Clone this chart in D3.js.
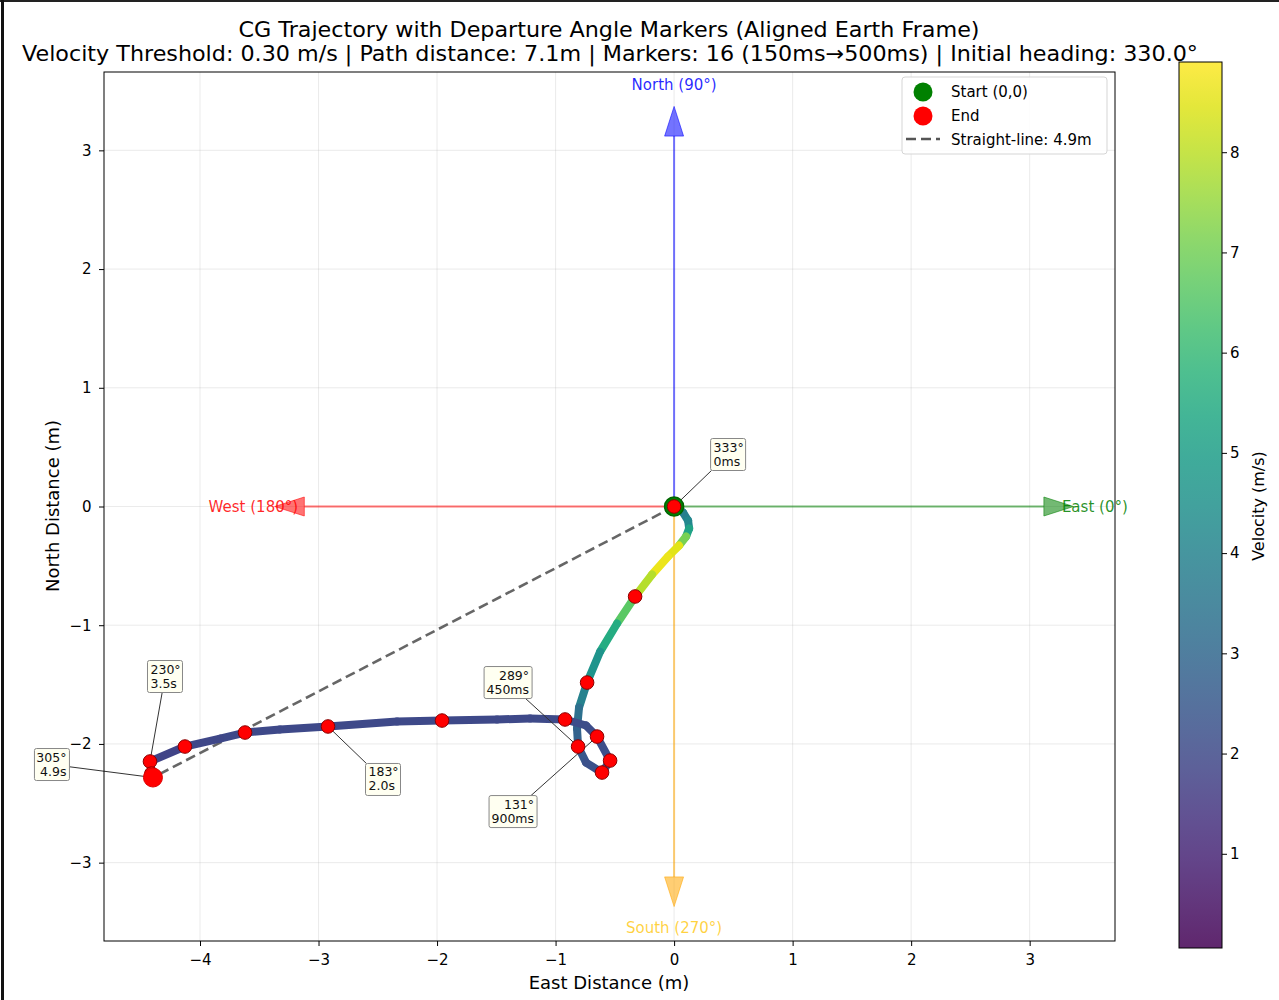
<!DOCTYPE html>
<html>
<head>
<meta charset="utf-8">
<script src="https://cdn.jsdelivr.net/npm/d3@7"></script>
<style>
  body { margin: 0; background: #fff; }
  svg text { font-family: "DejaVu Sans", sans-serif; }
</style>
</head>
<body>
<script>
// trajectory samples (east m, north m) and velocity (m/s)
var pathEast  = [0, 0.076, 0.118, 0.127, 0.101, 0.042, -0.051, -0.186, -0.329, -0.481, -0.624, -0.734, -0.802, -0.819, -0.810, -0.743, -0.608, -0.540, -0.650, -0.743, -0.920, -1.215, -1.494, -1.958, -2.338, -2.920, -3.325, -3.620, -3.831, -4.127, -4.422, -4.397];
var pathNorth = [0, -0.051, -0.118, -0.185, -0.253, -0.329, -0.421, -0.573, -0.758, -0.986, -1.222, -1.483, -1.693, -1.870, -2.022, -2.157, -2.241, -2.140, -1.938, -1.845, -1.794, -1.786, -1.794, -1.803, -1.811, -1.853, -1.879, -1.904, -1.955, -2.022, -2.148, -2.283];
var pathVel   = [3.6, 3.7, 4.0, 4.4, 6.0, 8.2, 8.8, 8.5, 7.3, 6.0, 5.0, 4.3, 3.6, 3.0, 2.6, 2.3, 2.2, 2.2, 2.1, 2.1, 2.1, 2.0, 2.0, 2.0, 2.0, 2.0, 2.0, 2.0, 2.0, 1.9, 1.8, 1.6];

// departure angle markers
var markEast  = [0, -0.329, -0.734, -0.810, -0.608, -0.540, -0.650, -0.920, -1.958, -2.920, -3.620, -4.127, -4.422, -4.410, -4.400, -4.397];
var markNorth = [0, -0.758, -1.483, -2.022, -2.241, -2.140, -1.938, -1.794, -1.803, -1.853, -1.904, -2.022, -2.148, -2.250, -2.270, -2.283];

// annotated markers
var noteIndex = [0, 3, 6, 9, 12, 15];
var noteAngle = ["333°", "289°", "131°", "183°", "230°", "305°"];
var noteTime  = ["0ms", "450ms", "900ms", "2.0s", "3.5s", "4.9s"];
var noteAlign = ["start", "end", "end", "start", "start", "end"];
var noteShift = [[54, -52], [-70, -64], [-84, 75], [55, 53], [15, -85], [-101, -13]];

var xTicks = [-4, -3, -2, -1, 0, 1, 2, 3];
var yTicks = [-3, -2, -1, 0, 1, 2, 3];
var cTicks = [1, 2, 3, 4, 5, 6, 7, 8];

var W = 1279, H = 1000;
var svg = d3.select("body").append("svg").attr("width", W).attr("height", H);

var x = d3.scaleLinear().domain([-4.81, 3.72]).range([104, 1115]);
var y = d3.scaleLinear().domain([-3.66, 3.66]).range([941, 72]);
var vDomain = [0.06, 8.9];
var color = d3.scaleSequential(d3.interpolateViridis).domain(vDomain);
var cb = d3.scaleLinear().domain(vDomain).range([948, 62]);

// page frame
svg.append("rect").attr("x", 0).attr("y", 0).attr("width", W).attr("height", 2).attr("fill", "#222");
svg.append("rect").attr("x", 1).attr("y", 0).attr("width", 3).attr("height", H).attr("fill", "#111");

// titles
svg.append("text").attr("x", 609).attr("y", 37).attr("text-anchor", "middle")
  .attr("font-size", 21).attr("textLength", 741).attr("lengthAdjust", "spacingAndGlyphs")
  .text("CG Trajectory with Departure Angle Markers (Aligned Earth Frame)");
svg.append("text").attr("x", 610).attr("y", 61).attr("text-anchor", "middle")
  .attr("font-size", 21).attr("textLength", 1176).attr("lengthAdjust", "spacingAndGlyphs")
  .text("Velocity Threshold: 0.30 m/s | Path distance: 7.1m | Markers: 16 (150ms\u2192500ms) | Initial heading: 330.0°");

var plot = svg.append("g");

// grid
plot.selectAll(".gx").data(xTicks).enter().append("line")
  .attr("x1", d => x(d)).attr("x2", d => x(d)).attr("y1", 72).attr("y2", 941)
  .attr("stroke", "#b0b0b0").attr("stroke-opacity", 0.25);
plot.selectAll(".gy").data(yTicks).enter().append("line")
  .attr("y1", d => y(d)).attr("y2", d => y(d)).attr("x1", 104).attr("x2", 1115)
  .attr("stroke", "#b0b0b0").attr("stroke-opacity", 0.25);

// compass arrows
var compass = [
  { name: "North (90°)", dx: 0, dy: 1, col: "blue" },
  { name: "East (0°)", dx: 1, dy: 0, col: "green" },
  { name: "West (180°)", dx: -1, dy: 0, col: "red" },
  { name: "South (270°)", dx: 0, dy: -1, col: "orange" }
];
var arrowLen = 3.37, headLen = 0.25, headW = 0.08, labelAt = 3.55;
var cg = plot.append("g");
compass.forEach(function(c) {
  var bx = c.dx * (arrowLen - headLen), by = c.dy * (arrowLen - headLen);
  var tx = c.dx * arrowLen, ty = c.dy * arrowLen;
  var labelCol = c.col === "orange" ? "#ffc400" : c.col;
  cg.append("text").attr("x", x(c.dx * labelAt)).attr("y", y(c.dy * labelAt)).attr("dy", "0.35em")
    .attr("text-anchor", "middle").attr("font-size", 15).attr("fill", labelCol)
    .attr("fill-opacity", c.col === "orange" ? 0.75 : 0.85).text(c.name);
  cg.append("line").attr("x1", x(0)).attr("y1", y(0)).attr("x2", x(bx)).attr("y2", y(by))
    .attr("stroke", c.col).attr("stroke-opacity", 0.55).attr("stroke-width", 2);
  var px = -c.dy * headW, py = c.dx * headW;
  var pts = [[tx, ty], [bx + px, by + py], [bx - px, by - py]];
  cg.append("polygon").attr("points", pts.map(p => x(p[0]) + "," + y(p[1])).join(" "))
    .attr("fill", c.col).attr("fill-opacity", 0.55)
    .attr("stroke", c.col).attr("stroke-opacity", 0.55);
});

// straight line start -> end
var last = pathEast.length - 1;
plot.append("line").attr("x1", x(0)).attr("y1", y(0))
  .attr("x2", x(pathEast[last])).attr("y2", y(pathNorth[last]))
  .attr("stroke", "#555").attr("stroke-width", 2.6).attr("stroke-dasharray", "10,5").attr("stroke-opacity", 0.9);

// trajectory coloured by velocity
var segs = d3.range(last);
plot.append("g").selectAll("line").data(segs).enter().append("line")
  .attr("x1", i => x(pathEast[i])).attr("y1", i => y(pathNorth[i]))
  .attr("x2", i => x(pathEast[i + 1])).attr("y2", i => y(pathNorth[i + 1]))
  .attr("stroke", i => color((pathVel[i] + pathVel[i + 1]) / 2))
  .attr("stroke-width", 8).attr("stroke-linecap", "round");

// annotation leader lines
var notes = noteIndex.map(function(m, k) {
  var mx = x(markEast[m]), my = y(markNorth[m]);
  return { mx: mx, my: my, cx: mx + noteShift[k][0], cy: my + noteShift[k][1], k: k };
});
var boxW = function(k) { return noteTime[k].length > 4 ? 48 : 35; }, boxH = 32;
notes.forEach(function(n) {
  var w = boxW(n.k) / 2, h = boxH / 2;
  var ddx = n.mx - n.cx, ddy = n.my - n.cy;
  var s = Math.min(w / Math.abs(ddx || 1e-6), h / Math.abs(ddy || 1e-6));
  plot.append("line").attr("x1", n.cx + ddx * s).attr("y1", n.cy + ddy * s)
    .attr("x2", n.mx).attr("y2", n.my).attr("stroke", "#333").attr("stroke-width", 1);
});

// start marker
plot.append("circle").attr("cx", x(0)).attr("cy", y(0)).attr("r", 9.5)
  .attr("fill", "green").attr("stroke", "darkgreen").attr("stroke-width", 1.5);

// departure markers
plot.append("g").selectAll("circle").data(markEast).enter().append("circle")
  .attr("cx", d => x(d)).attr("cy", (d, i) => y(markNorth[i])).attr("r", 6.8)
  .attr("fill", "red").attr("stroke", "darkred").attr("stroke-width", 1);

// end marker
plot.append("circle").attr("cx", x(pathEast[last])).attr("cy", y(pathNorth[last])).attr("r", 9.5)
  .attr("fill", "red").attr("stroke", "#d00").attr("stroke-width", 1);

// annotation boxes
notes.forEach(function(n) {
  var k = n.k, w = boxW(k);
  var g = plot.append("g");
  g.append("rect").attr("x", n.cx - w / 2).attr("y", n.cy - boxH / 2).attr("width", w).attr("height", boxH)
    .attr("rx", 2).attr("fill", "#fffff0").attr("fill-opacity", 0.9).attr("stroke", "#888").attr("stroke-width", 1);
  var tx = noteAlign[k] === "start" ? n.cx - w / 2 + 3 : n.cx + w / 2 - 3;
  g.append("text").attr("x", tx).attr("y", n.cy - 3).attr("text-anchor", noteAlign[k])
    .attr("font-size", 12.5).attr("fill", "#111").text(noteAngle[k]);
  g.append("text").attr("x", tx).attr("y", n.cy + 11).attr("text-anchor", noteAlign[k])
    .attr("font-size", 12.5).attr("fill", "#111").text(noteTime[k]);
});

// axes frame + ticks
plot.append("rect").attr("x", 104).attr("y", 72).attr("width", 1011).attr("height", 869)
  .attr("fill", "none").attr("stroke", "#000").attr("stroke-width", 1);
var fmt = d => d < 0 ? "\u2212" + (-d) : d;
var xAxis = svg.append("g").attr("transform", "translate(0,941)")
  .call(d3.axisBottom(x).tickValues(xTicks).tickSize(5).tickFormat(fmt));
var yAxis = svg.append("g").attr("transform", "translate(104,0)")
  .call(d3.axisLeft(y).tickValues(yTicks).tickSize(5).tickFormat(fmt));
[xAxis, yAxis].forEach(function(a) {
  a.select(".domain").remove();
  a.selectAll("text").attr("font-size", 15).attr("font-family", "DejaVu Sans").attr("fill", "#000");
  a.selectAll("line").attr("stroke", "#000");
});
xAxis.selectAll("text").attr("dy", "1.05em");
yAxis.selectAll("text").attr("dx", "-0.3em");

svg.append("text").attr("x", 609).attr("y", 989).attr("text-anchor", "middle").attr("font-size", 18)
  .text("East Distance (m)");
svg.append("text").attr("transform", "translate(59,506) rotate(-90)").attr("text-anchor", "middle")
  .attr("font-size", 18).text("North Distance (m)");

// legend
var lg = svg.append("g");
lg.append("rect").attr("x", 902).attr("y", 77).attr("width", 205).attr("height", 77).attr("rx", 3)
  .attr("fill", "#fff").attr("fill-opacity", 0.85).attr("stroke", "#d5d5d5");
lg.append("circle").attr("cx", 923).attr("cy", 92).attr("r", 9.5).attr("fill", "green");
lg.append("circle").attr("cx", 923).attr("cy", 116).attr("r", 9.5).attr("fill", "red");
lg.append("line").attr("x1", 906).attr("x2", 940).attr("y1", 139).attr("y2", 139)
  .attr("stroke", "#555").attr("stroke-width", 2.5).attr("stroke-dasharray", "10,5");
var legText = ["Start (0,0)", "End", "Straight-line: 4.9m"];
lg.selectAll(".lt").data(legText).enter().append("text")
  .attr("x", 951).attr("y", (d, i) => 97 + i * 24).attr("font-size", 15).text(d => d);

// colorbar
var grad = svg.append("defs").append("linearGradient").attr("id", "vir")
  .attr("x1", 0).attr("y1", 1).attr("x2", 0).attr("y2", 0);
d3.range(0, 1.001, 0.05).forEach(function(t) {
  grad.append("stop").attr("offset", t).attr("stop-color", d3.interpolateViridis(t));
});
svg.append("rect").attr("x", 1179).attr("y", 62).attr("width", 43).attr("height", 886)
  .attr("fill", "url(#vir)").attr("fill-opacity", 0.85);
svg.append("rect").attr("x", 1179).attr("y", 62).attr("width", 43).attr("height", 886)
  .attr("fill", "none").attr("stroke", "#000").attr("stroke-width", 1);
var cAxis = svg.append("g").attr("transform", "translate(1222,0)")
  .call(d3.axisRight(cb).tickValues(cTicks).tickSize(5));
cAxis.select(".domain").remove();
cAxis.selectAll("text").attr("font-size", 15).attr("font-family", "DejaVu Sans").attr("fill", "#000");
cAxis.selectAll("line").attr("stroke", "#000");
svg.append("text").attr("transform", "translate(1264,506) rotate(-90)").attr("text-anchor", "middle")
  .attr("font-size", 16).text("Velocity (m/s)");
</script>
</body>
</html>
